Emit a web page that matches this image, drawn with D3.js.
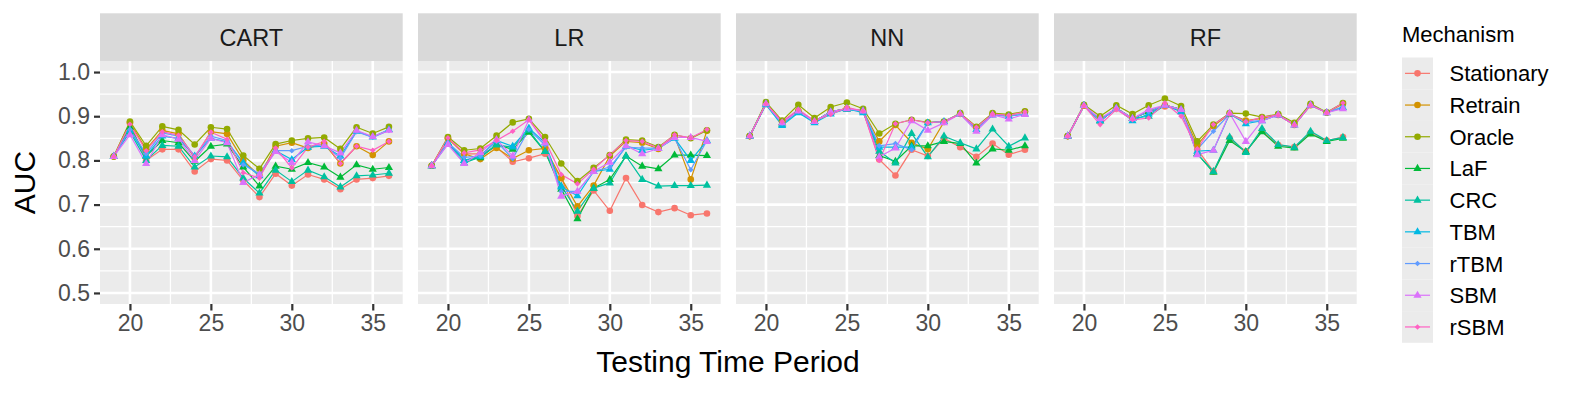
<!DOCTYPE html>
<html>
<head>
<meta charset="utf-8">
<script src="https://cdn.jsdelivr.net/npm/d3@7"></script>
<style>
  body { margin: 0; background: #fff; }
  svg { display: block; font-family: "Liberation Sans", Arial, Helvetica, sans-serif; }
</style>
</head>
<body>
<svg width="1578" height="393"></svg>
<script>
// data
var models = ['CART', 'LR', 'NN', 'RF'];
var mechanisms = ['Stationary', 'Retrain', 'Oracle', 'LaF', 'CRC', 'TBM', 'rTBM', 'SBM', 'rSBM'];
var periods = [19, 20, 21, 22, 23, 24, 25, 26, 27, 28, 29, 30, 31, 32, 33, 34, 35, 36];
var yTicks = [0.5, 0.6, 0.7, 0.8, 0.9, 1.0];
var xTicks = [20, 25, 30, 35];

// one row per mechanism, same order as mechanisms
var cartAUC = [
  [.809,.885,.800,.825,.825,.775,.803,.800,.755,.717,.770,.743,.768,.757,.735,.757,.760,.765],
  [.809,.885,.825,.868,.860,.805,.865,.860,.800,.765,.832,.840,.828,.838,.793,.832,.812,.843],
  [.809,.888,.833,.877,.869,.836,.875,.871,.811,.781,.837,.845,.850,.852,.826,.875,.861,.876],
  [.809,.875,.810,.845,.840,.798,.832,.837,.785,.742,.787,.780,.795,.785,.762,.790,.780,.784],
  [.809,.865,.800,.834,.832,.785,.810,.808,.760,.726,.778,.752,.778,.763,.740,.765,.767,.771],
  [.809,.868,.810,.855,.850,.810,.850,.842,.795,.765,.822,.802,.830,.832,.810,.866,.853,.870],
  [.809,.870,.815,.862,.855,.810,.855,.845,.790,.770,.822,.822,.832,.835,.805,.865,.852,.868],
  [.809,.858,.793,.858,.848,.800,.850,.840,.750,.768,.820,.795,.842,.833,.817,.868,.854,.868],
  [.809,.882,.822,.865,.857,.808,.864,.848,.772,.760,.828,.783,.830,.843,.793,.832,.823,.843]
];
var lrAUC = [
  [.788,.850,.815,.815,.830,.797,.805,.815,.760,.674,.732,.686,.760,.699,.683,.692,.676,.680],
  [.788,.850,.815,.803,.828,.804,.823,.827,.760,.696,.743,.810,.843,.840,.826,.855,.757,.867],
  [.788,.853,.823,.827,.856,.886,.894,.853,.793,.753,.783,.812,.847,.845,.830,.858,.850,.868],
  [.788,.840,.800,.806,.836,.825,.864,.820,.735,.668,.737,.757,.810,.787,.781,.812,.812,.811],
  [.788,.838,.794,.808,.835,.830,.868,.820,.742,.685,.737,.749,.810,.757,.742,.743,.743,.744],
  [.788,.840,.800,.810,.845,.832,.873,.840,.740,.720,.775,.780,.832,.823,.827,.850,.800,.845],
  [.788,.840,.807,.810,.843,.804,.870,.835,.730,.730,.775,.785,.830,.828,.828,.850,.779,.845],
  [.788,.836,.793,.818,.847,.810,.892,.840,.719,.730,.775,.796,.833,.815,.827,.852,.852,.843],
  [.788,.851,.817,.824,.845,.866,.892,.845,.768,.747,.780,.813,.845,.843,.828,.858,.851,.870]
];
var nnAUC = [
  [.855,.928,.888,.912,.888,.910,.917,.912,.802,.766,.824,.810,.850,.830,.808,.838,.813,.824],
  [.855,.928,.888,.912,.888,.910,.917,.912,.843,.880,.840,.825,.887,.905,.875,.905,.902,.910],
  [.855,.932,.890,.926,.896,.921,.931,.917,.861,.883,.892,.886,.888,.907,.876,.907,.904,.911],
  [.855,.928,.885,.912,.888,.910,.917,.912,.811,.798,.833,.833,.843,.838,.794,.826,.823,.833],
  [.855,.928,.882,.912,.888,.910,.915,.912,.821,.794,.861,.808,.855,.840,.826,.871,.832,.851],
  [.855,.926,.879,.908,.885,.905,.917,.908,.830,.830,.830,.885,.888,.905,.870,.903,.900,.905],
  [.855,.928,.884,.912,.888,.910,.917,.912,.833,.838,.824,.885,.888,.905,.870,.903,.900,.905],
  [.855,.928,.885,.912,.888,.910,.917,.912,.808,.828,.890,.868,.885,.905,.866,.903,.894,.904],
  [.855,.928,.888,.915,.890,.904,.920,.912,.800,.883,.892,.885,.888,.905,.875,.905,.902,.910]
];
var rfAUC = [
  [.855,.924,.890,.918,.895,.910,.922,.915,.825,.775,.850,.820,.867,.835,.830,.862,.845,.853],
  [.855,.924,.890,.918,.895,.910,.925,.915,.835,.878,.905,.890,.895,.903,.880,.925,.908,.928],
  [.855,.926,.900,.925,.905,.925,.940,.923,.843,.881,.907,.906,.898,.905,.885,.928,.909,.930],
  [.855,.924,.890,.918,.895,.910,.925,.915,.815,.773,.845,.820,.865,.832,.828,.860,.843,.850],
  [.855,.924,.890,.918,.895,.900,.925,.915,.815,.775,.853,.818,.872,.836,.830,.866,.845,.852],
  [.855,.924,.890,.918,.890,.905,.925,.910,.821,.823,.905,.883,.890,.903,.880,.925,.908,.920],
  [.855,.924,.890,.918,.895,.910,.925,.915,.825,.866,.905,.888,.890,.903,.880,.925,.908,.922],
  [.855,.924,.895,.918,.895,.915,.925,.915,.813,.823,.907,.843,.890,.903,.880,.925,.908,.917],
  [.855,.924,.881,.915,.892,.896,.930,.900,.826,.881,.905,.887,.898,.903,.880,.925,.908,.930]
];
var modelData = [cartAUC, lrAUC, nnAUC, rfAUC];

var colors = ['#F8766D', '#D39200', '#93AA00', '#00BA38', '#00C19F', '#00B9E3', '#619CFF', '#DB72FB', '#FF61C3'];
var shapes = ['circle', 'circle', 'circle', 'triangle', 'triangle', 'triangle', 'diamond', 'triangle', 'diamond'];

// layout
var svg = d3.select('svg');
var panelW = 302.7, panelTop = 61, panelH = 243, stripTop = 13.3;
var panelLeft = function(i){ return 100 + i * 318; };

var x = d3.scaleLinear().domain([18.15, 36.85]).range([0, panelW]);
var y = d3.scaleLinear().domain([0.475, 1.025]).range([panelH, 0]);

var line = d3.line()
  .x(function(d){ return x(d.t); })
  .y(function(d){ return y(d.v); });

var drawShape = function(sel, shape, color){
  if (shape === 'circle') {
    sel.append('circle').attr('r', 3.3).attr('fill', color);
  } else if (shape === 'triangle') {
    sel.append('path').attr('d', 'M0,-4.6L4.1,2.5L-4.1,2.5Z').attr('fill', color);
  } else {
    sel.append('path').attr('d', 'M0,-2.8L2.8,0L0,2.8L-2.8,0Z').attr('fill', color);
  }
};

models.forEach(function(model, mi){
  var g = svg.append('g').attr('transform', 'translate(' + panelLeft(mi) + ',' + panelTop + ')');

  // strip
  svg.append('rect')
    .attr('x', panelLeft(mi)).attr('y', stripTop)
    .attr('width', panelW).attr('height', panelTop - stripTop)
    .attr('fill', '#D9D9D9');
  svg.append('text')
    .attr('x', panelLeft(mi) + panelW / 2).attr('y', 46)
    .attr('text-anchor', 'middle')
    .attr('font-size', 23.5).attr('fill', '#1A1A1A')
    .text(model);

  // panel background and grid
  g.append('rect').attr('width', panelW).attr('height', panelH).attr('fill', '#EBEBEB');
  var minorY = d3.range(0.55, 1.0, 0.1);
  var minorX = [22.5, 27.5, 32.5];
  g.selectAll('.ymin').data(minorY).enter().append('line')
    .attr('x1', 0).attr('x2', panelW)
    .attr('y1', function(d){ return y(d); }).attr('y2', function(d){ return y(d); })
    .attr('stroke', '#fff').attr('stroke-width', 1.3);
  g.selectAll('.xmin').data(minorX).enter().append('line')
    .attr('y1', 0).attr('y2', panelH)
    .attr('x1', function(d){ return x(d); }).attr('x2', function(d){ return x(d); })
    .attr('stroke', '#fff').attr('stroke-width', 1.3);
  g.selectAll('.ymaj').data(yTicks).enter().append('line')
    .attr('x1', 0).attr('x2', panelW)
    .attr('y1', function(d){ return y(d); }).attr('y2', function(d){ return y(d); })
    .attr('stroke', '#fff').attr('stroke-width', 2.6);
  g.selectAll('.xmaj').data(xTicks).enter().append('line')
    .attr('y1', 0).attr('y2', panelH)
    .attr('x1', function(d){ return x(d); }).attr('x2', function(d){ return x(d); })
    .attr('stroke', '#fff').attr('stroke-width', 2.6);

  // series
  var series = mechanisms.map(function(m, si){
    return {
      name: m, color: colors[si], shape: shapes[si],
      values: periods.map(function(t, k){ return { t: t, v: modelData[mi][si][k] }; })
    };
  });

  g.selectAll('.series').data(series).enter().append('path')
    .attr('d', function(s){ return line(s.values); })
    .attr('fill', 'none')
    .attr('stroke', function(s){ return s.color; })
    .attr('stroke-width', 1.2);

  series.forEach(function(s){
    s.values.forEach(function(p){
      var pg = g.append('g').attr('transform', 'translate(' + x(p.t) + ',' + y(p.v) + ')');
      drawShape(pg, s.shape, s.color);
    });
  });

  // x axis
  var xa = g.append('g').attr('transform', 'translate(0,' + panelH + ')')
    .call(d3.axisBottom(x).tickValues(xTicks).tickSize(6.5).tickPadding(4).tickFormat(d3.format('d')));
  xa.select('.domain').remove();
  xa.selectAll('line').attr('stroke', '#333').attr('stroke-width', 2.2);
  xa.selectAll('text').attr('font-size', 23).attr('fill', '#4D4D4D').attr('font-family', null);

  // y axis only on first panel
  if (mi === 0) {
    var ya = g.append('g')
      .call(d3.axisLeft(y).tickValues(yTicks).tickSize(6).tickPadding(4).tickFormat(d3.format('.1f')));
    ya.select('.domain').remove();
    ya.selectAll('line').attr('stroke', '#333').attr('stroke-width', 2.2);
    ya.selectAll('text').attr('font-size', 23).attr('fill', '#4D4D4D').attr('font-family', null);
  }
});

// axis titles
svg.append('text')
  .attr('x', 728).attr('y', 371.5)
  .attr('text-anchor', 'middle').attr('font-size', 30).attr('fill', '#000')
  .text('Testing Time Period');
svg.append('text')
  .attr('transform', 'translate(35,182.5) rotate(-90)')
  .attr('text-anchor', 'middle').attr('font-size', 30).attr('fill', '#000')
  .text('AUC');

// legend
var legend = svg.append('g').attr('transform', 'translate(1402,0)');
legend.append('text').attr('x', 0).attr('y', 42).attr('font-size', 22).attr('fill', '#000').text('Mechanism');
var keyH = 31.7, keyTop = 57.5;
mechanisms.forEach(function(m, i){
  var cy = keyTop + keyH * i + keyH / 2;
  legend.append('rect').attr('x', 0).attr('y', keyTop + keyH * i).attr('width', 31).attr('height', keyH).attr('fill', '#EBEBEB');
  legend.append('line').attr('x1', 3).attr('x2', 28).attr('y1', cy).attr('y2', cy)
    .attr('stroke', colors[i]).attr('stroke-width', 1.2);
  var kg = legend.append('g').attr('transform', 'translate(15.5,' + cy + ')');
  drawShape(kg, shapes[i], colors[i]);
  legend.append('text').attr('x', 47.5).attr('y', cy + 8).attr('font-size', 22).attr('fill', '#000').text(m);
});
</script>
</body>
</html>
